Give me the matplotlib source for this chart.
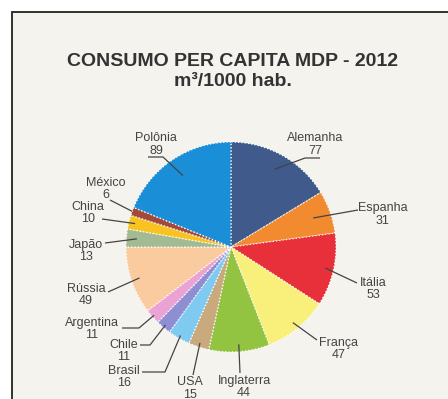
import numpy as np
import matplotlib
matplotlib.use('Agg')
import matplotlib.pyplot as plt
from matplotlib.patches import Rectangle

# consumo per capita de MDP em 2012, m3 por 1000 habitantes
paises = ['Alemanha', 'Espanha', 'Itália', 'França', 'Inglaterra', 'USA',
          'Brasil', 'Chile', 'Argentina', 'Rússia', 'Japão', 'China',
          'México', 'Polônia']
consumo = [77, 31, 53, 47, 44, 15, 16, 11, 11, 49, 13, 10, 6, 89]
cores = ['#405a8c', '#f28a30', '#e8303a', '#f9f07c', '#93c441', '#c9aa7c',
         '#7fcaf0', '#8e8fd2', '#eaa3d4', '#fbcba0', '#a3bb93', '#f8c321',
         '#a4483a', '#1a8fd8']

W, H = 448, 399
CX, CY, R = 231, 247, 105

# posição do nome (px), raio relativo da ponta da linha e pontos externos da linha
rotulos = {
    'Alemanha':   ((315, 138), 0.85, [(320, 158), (305, 158)]),
    'Espanha':    ((383, 208), 0.83, [(358, 210)]),
    'Itália':     ((373, 283), 0.92, [(357, 283)]),
    'França':     ((339, 343), 0.93, [(317, 340)]),
    'Inglaterra': ((244, 381), 0.93, [(240, 373)]),
    'USA':        ((190, 382), 0.96, [(193, 375)]),
    'Brasil':     ((124, 371), 0.97, [(142, 372), (165, 372)]),
    'Chile':      ((124, 345), 0.97, [(140, 345), (150, 345)]),
    'Argentina':  ((92, 323), 0.98, [(122, 328), (139, 328)]),
    'Rússia':     ((86, 289), 0.92, [(108, 292)]),
    'Japão':      ((86, 245), 0.9, [(105, 243)]),
    'China':      ((88, 207), 0.94, [(102, 219)]),
    'México':     ((106, 183), 1.0, [(110, 200)]),
    'Polônia':    ((156, 138), 0.82, [(148, 157), (163, 157)]),
}


def py(y):
    return H - y


plt.rcParams['font.family'] = ['Liberation Sans', 'DejaVu Sans']

fig = plt.figure(figsize=(W / 100, H / 100), dpi=100)
fig.patch.set_facecolor('white')
ax = fig.add_axes([0, 0, 1, 1])
ax.set_xlim(0, W)
ax.set_ylim(0, H)
ax.set_aspect('equal')
ax.axis('off')

ax.add_patch(Rectangle((11.5, -20), W + 20, py(11.5) + 20, facecolor='#f4f3ee',
                       edgecolor='#222222', linewidth=1.3, zorder=0))

ax.text(232, py(62), 'CONSUMO PER CAPITA MDP - 2012', ha='center', va='center',
        fontsize=14, fontweight='bold', color='#333333')
ax.text(233, py(82), 'm³/1000 hab.', ha='center', va='center',
        fontsize=14, fontweight='bold', color='#333333')

wedges, _ = ax.pie(consumo, colors=cores, startangle=90, counterclock=False,
                   center=(CX, py(CY)), radius=R, frame=True,
                   wedgeprops=dict(edgecolor='white', linewidth=0.9, linestyle=':'))
ax.set_xlim(0, W)
ax.set_ylim(0, H)
ax.axis('off')

for w, nome, valor in zip(wedges, paises, consumo):
    (tx, ty), frac, pontos = rotulos[nome]
    ang = np.deg2rad((w.theta1 + w.theta2) / 2)
    ix = CX + frac * R * np.cos(ang)
    iy = py(CY) + frac * R * np.sin(ang)
    xs = [p[0] for p in pontos] + [ix]
    ys = [py(p[1]) for p in pontos] + [iy]
    ax.plot(xs, ys, color='#444444', linewidth=0.9, solid_capstyle='butt', zorder=5)
    ax.text(tx, py(ty), nome, ha='center', va='center', fontsize=9, color='#444444')
    ax.text(tx, py(ty + 12.5), str(valor), ha='center', va='center',
            fontsize=9, color='#444444')

fig.savefig('out.png', dpi=100, facecolor='white')
